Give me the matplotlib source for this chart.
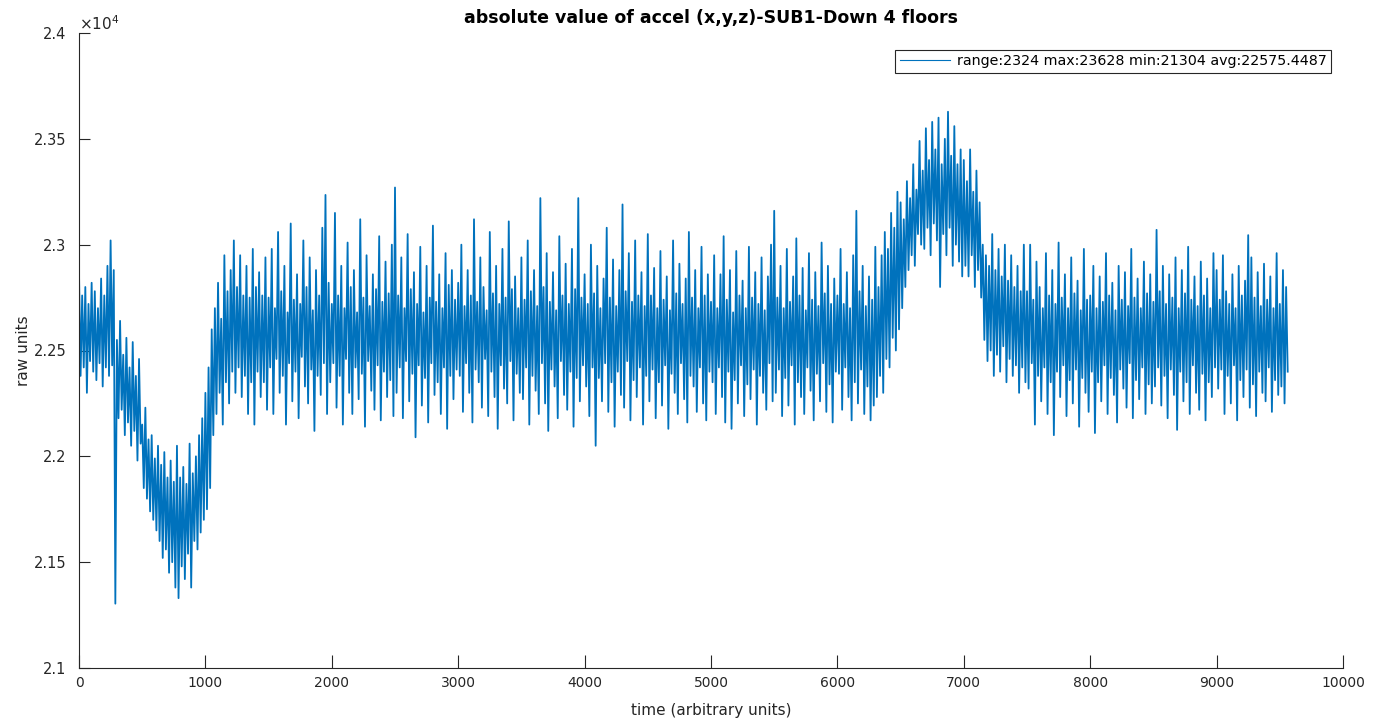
import numpy as np
import matplotlib
matplotlib.use("Agg")
import matplotlib.pyplot as plt
from matplotlib.ticker import FuncFormatter

# accel magnitude, one peak + one trough per 25 samples
step = 25

peaks = [
    22870, 22760, 22800, 22720, 22820, 22780, 22700, 22840, 22760, 22900, 23020, 22880, 22550, 22640, 22480, 22560, 22420, 22540, 22380, 22460,  # 0-475
    22150, 22230, 22080, 22100, 21990, 22050, 21960, 22020, 21900, 21980, 21880, 22050, 21900, 21950, 21870, 22060, 21920, 22000, 22100, 22180,  # 500-975
    22300, 22420, 22600, 22700, 22820, 22650, 22950, 22780, 22880, 23020, 22800, 22950, 22760, 22900, 22750, 22980, 22800, 22870, 22760, 22940,  # 1000-1475
    22750, 22980, 22700, 23060, 22780, 22900, 22680, 23100, 22740, 22860, 22720, 23020, 22800, 22940, 22690, 22880, 22760, 23080, 23235, 22820,  # 1500-1975
    22720, 23150, 22760, 22900, 22700, 23010, 22800, 22880, 22680, 23120, 22750, 22950, 22710, 22860, 22790, 23040, 22730, 22920, 22770, 23000,  # 2000-2475
    23270, 22760, 22940, 22700, 23050, 22790, 22870, 22720, 22990, 22680, 22900, 22750, 23090, 22730, 22860, 22700, 22960, 22810, 22880, 22740,  # 2500-2975
    22820, 23000, 22710, 22880, 22760, 23120, 22730, 22940, 22800, 22690, 23060, 22770, 22900, 22720, 22980, 22750, 23110, 22790, 22850, 22700,  # 3000-3475
    22940, 22740, 23020, 22780, 22880, 22710, 23220, 22800, 22960, 22730, 22870, 22690, 23040, 22760, 22910, 22720, 22980, 22790, 23220, 22750,  # 3500-3975
    22860, 22720, 23000, 22770, 22900, 22700, 22840, 23080, 22750, 22930, 22710, 22880, 23190, 22780, 22960, 22730, 23020, 22760, 22870, 22710,  # 4000-4475
    23050, 22760, 22890, 22700, 22970, 22740, 22850, 22690, 23020, 22770, 22910, 22720, 22840, 23060, 22750, 22880, 22700, 22990, 22760, 22860,  # 4500-4975
    22730, 22950, 22700, 22860, 23040, 22740, 22880, 22680, 22970, 22760, 22830, 22700, 22990, 22750, 22870, 22720, 22940, 22690, 22850, 23000,  # 5000-5475
    23160, 22750, 22900, 22700, 22980, 22730, 22850, 23030, 22760, 22890, 22690, 22960, 22740, 22870, 22710, 23010, 22770, 22900, 22720, 22840,  # 5500-5975
    22760, 22980, 22720, 22870, 22700, 22950, 23160, 22780, 22900, 22710, 22850, 22740, 22990, 22800, 22950, 23060, 22980, 23150, 23080, 23250,  # 6000-6475
    23200, 23120, 23300, 23220, 23380, 23260, 23490, 23350, 23550, 23400, 23580, 23450, 23600, 23380, 23500, 23628, 23420, 23560, 23380, 23450,  # 6500-6975
    23400, 23300, 23450, 23250, 23350, 23200, 23000, 22950, 22900, 23050, 22880, 22980, 22850, 23000, 22830, 22950, 22800, 22900, 22780, 23000,  # 7000-7475
    22780, 23000, 22740, 22920, 22800, 22700, 22960, 22760, 22880, 22720, 23010, 22750, 22860, 22700, 22940, 22770, 22830, 22690, 22980, 22740,  # 7500-7975
    22760, 22900, 22700, 22850, 22730, 22960, 22760, 22820, 22690, 22900, 22740, 22870, 22710, 22980, 22750, 22840, 22700, 22920, 22770, 22860,  # 8000-8475
    22730, 23070, 22780, 22900, 22720, 22860, 22750, 22940, 22700, 22880, 22770, 22990, 22740, 22850, 22710, 22920, 22760, 22840, 22700, 22960,  # 8500-8975
    22880, 22740, 22950, 22780, 22720, 22860, 22700, 22900, 22760, 22830, 23045, 22940, 22750, 22870, 22710, 22910, 22740, 22850, 22700, 22960, 22720, 22880, 22800,  # 9000-9550
]

troughs = [
    22380, 22420, 22300, 22450, 22400, 22360, 22440, 22330, 22420, 22380, 22430, 21304, 22180, 22220, 22100, 22160, 22050, 22120, 21980, 22060,
    21850, 21800, 21740, 21700, 21650, 21600, 21520, 21560, 21450, 21500, 21380, 21330, 21480, 21420, 21540, 21380, 21600, 21560, 21640, 21700,
    21750, 21850, 22100, 22200, 22300, 22150, 22350, 22250, 22400, 22300, 22420, 22280, 22380, 22200, 22350, 22150, 22400, 22280, 22350, 22220,
    22420, 22200, 22460, 22300, 22380, 22150, 22440, 22260, 22400, 22180, 22470, 22330, 22250, 22410, 22120, 22380, 22290, 22440, 22200, 22350,
    22440, 22230, 22380, 22150, 22460, 22300, 22200, 22420, 22270, 22390, 22140, 22450, 22310, 22220, 22430, 22170, 22400, 22280, 22360, 22190,
    22300, 22420, 22180, 22450, 22260, 22390, 22090, 22430, 22240, 22370, 22160, 22440, 22290, 22350, 22200, 22420, 22130, 22380, 22270, 22410,
    22380, 22210, 22440, 22300, 22160, 22410, 22350, 22230, 22460, 22190, 22400, 22280, 22130, 22430, 22320, 22250, 22450, 22170, 22390, 22300,
    22270, 22420, 22150, 22380, 22310, 22200, 22440, 22250, 22120, 22410, 22330, 22180, 22450, 22290, 22220, 22400, 22140, 22370, 22260, 22430,
    22330, 22190, 22420, 22050, 22370, 22260, 22440, 22210, 22350, 22140, 22400, 22290, 22230, 22450, 22170, 22360, 22280, 22420, 22150, 22380,
    22260, 22410, 22180, 22350, 22240, 22430, 22130, 22390, 22300, 22200, 22440, 22270, 22160, 22380, 22330, 22210, 22420, 22250, 22170, 22400,
    22350, 22200, 22420, 22280, 22160, 22400, 22130, 22360, 22250, 22430, 22190, 22340, 22270, 22410, 22150, 22380, 22300, 22220, 22440, 22260,
    22300, 22410, 22190, 22370, 22240, 22430, 22150, 22350, 22280, 22200, 22420, 22310, 22170, 22390, 22260, 22440, 22210, 22340, 22160, 22400,
    22390, 22220, 22420, 22280, 22170, 22350, 22250, 22410, 22200, 22330, 22170, 22240, 22280, 22380, 22300, 22460, 22420, 22560, 22500, 22600,
    22700, 22800, 22880, 22950, 22900, 23050, 23000, 22980, 23080, 22950, 23100, 23020, 22800, 23050, 22950, 23080, 22900, 23000, 22920, 22850,
    22900, 22850, 22950, 22800, 22880, 22750, 22550, 22450, 22500, 22380, 22480, 22400, 22520, 22350, 22460, 22380, 22430, 22300, 22420, 22350,
    22320, 22440, 22150, 22380, 22260, 22420, 22200, 22350, 22100, 22400, 22280, 22430, 22190, 22360, 22250, 22410, 22140, 22370, 22300, 22210,
    22400, 22110, 22350, 22260, 22430, 22200, 22370, 22290, 22160, 22410, 22320, 22230, 22440, 22180, 22360, 22270, 22420, 22200, 22340, 22250,
    22330, 22420, 22240, 22380, 22180, 22410, 22290, 22125, 22400, 22260, 22350, 22200, 22430, 22300, 22220, 22390, 22170, 22350, 22280, 22420,
    22320, 22410, 22200, 22380, 22250, 22430, 22170, 22360, 22280, 22410, 22230, 22340, 22190, 22400, 22300, 22260, 22420, 22210, 22360, 22290, 22330, 22250, 22400,
]

legend_label = "range:2324 max:23628 min:21304 avg:22575.4487"
title = "absolute value of accel (x,y,z)-SUB1-Down 4 floors"

# interleave peaks and troughs into one trace
n = len(peaks)
t = np.empty(2 * n)
y = np.empty(2 * n)
t[0::2] = np.arange(n) * step
t[1::2] = np.arange(n) * step + step / 2
y[0::2] = peaks
y[1::2] = troughs

txt = "#262626"
fig = plt.figure(figsize=(13.76, 7.26), dpi=100)
ax = fig.add_axes([79 / 1376, 58 / 726, 1264 / 1376, 635 / 726])

ax.plot(t, y, color="#0072BD", lw=1.3, label=legend_label)

ax.set_xlim(0, 10000)
ax.set_ylim(21000, 24000)
ax.set_xticks(np.arange(0, 10001, 1000))
ax.set_yticks(np.arange(21000, 24001, 500))
ax.yaxis.set_major_formatter(FuncFormatter(lambda v, p: "%g" % (v / 1e4)))

for s in ["top", "right"]:
    ax.spines[s].set_visible(False)
for s in ["left", "bottom"]:
    ax.spines[s].set_color(txt)
    ax.spines[s].set_linewidth(0.8)
ax.tick_params(axis="x", direction="in", length=9.5, width=0.8, colors=txt, labelsize=10, pad=6)
ax.tick_params(axis="y", direction="in", length=8, width=0.8, colors=txt, labelsize=10.5, pad=9)

ax.text(0.0, 1.0, r"$\times10^{4}$", transform=ax.transAxes, ha="left", va="bottom",
        fontsize=11, color=txt)

ax.set_title(title, fontsize=12.5, fontweight="bold", color="black", pad=7)
ax.set_xlabel("time (arbitrary units)", fontsize=11, color=txt, labelpad=9)
ax.set_ylabel("raw units", fontsize=11, color=txt, labelpad=2)

leg = ax.legend(loc="upper right", bbox_to_anchor=(1331 / 1376, 676 / 726),
                bbox_transform=fig.transFigure, borderaxespad=0, fontsize=10.3,
                fancybox=False, framealpha=1, edgecolor="#262626",
                handlelength=3.5, handletextpad=0.5, borderpad=0.3)
leg.get_frame().set_linewidth(0.8)
leg.get_lines()[0].set_linewidth(0.8)

fig.savefig("out.png", dpi=100)
